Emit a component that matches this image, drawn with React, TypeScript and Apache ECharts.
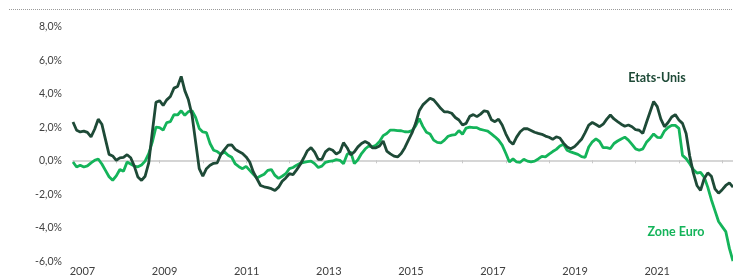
import React, { useEffect, useRef } from "react";
import * as echarts from "echarts";

// Monthly values (%), first point = January 2007
const usValues = [
  2.28, 1.79, 1.69, 1.74, 1.66, 1.4, 1.85, 2.45, 2.15, 1.25,
  0.35, 0.26, 0.0, 0.14, 0.17, 0.33, 0.15, -0.35, -1.0, -1.2,
  -0.95, -0.15, 1.7, 3.45, 3.55, 3.27, 3.6, 3.8, 4.3, 4.4,
  5.0, 4.15, 3.6, 2.7, 1.1, -0.5, -0.95, -0.5, -0.3, -0.18,
  -0.15, 0.35, 0.64, 0.9, 0.92, 0.65, 0.52, 0.41, 0.2, -0.1,
  -0.7, -1.1, -1.5, -1.58, -1.63, -1.69, -1.8, -1.6, -1.25, -1.05,
  -0.8, -0.85, -0.57, -0.25, 0.15, 0.57, 0.75, 0.48, 0.06, 0.05,
  0.5, 0.69, 0.6, 0.38, 0.5, 1.05, 0.75, 0.32, 0.5, 0.8,
  1.0, 1.12, 1.0, 0.74, 0.74, 0.85, 1.15, 0.55, 0.38, 0.25,
  0.2, 0.4, 0.75, 1.2, 1.63, 2.2, 2.95, 3.3, 3.5, 3.7,
  3.6, 3.35, 3.08, 2.88, 2.88, 2.8, 2.55, 2.4, 2.1, 2.2,
  2.62, 2.72, 2.6, 2.75, 2.95, 2.9, 2.42, 2.3, 2.45, 2.1,
  1.58, 1.15, 0.95, 1.38, 1.7, 1.88, 1.88, 1.78, 1.67, 1.6,
  1.55, 1.44, 1.37, 1.25, 1.4, 1.33, 1.02, 0.79, 0.69, 0.8,
  1.02, 1.25, 1.65, 2.1, 2.25, 2.13, 2.0, 2.15, 2.45, 2.7,
  2.46, 2.3, 2.15, 2.03, 2.1, 2.0, 1.82, 1.79, 1.6, 2.25,
  2.88, 3.5, 3.2, 2.45, 2.0, 2.25, 2.58, 2.72, 2.4, 2.2,
  1.6, 0.25, -0.75, -1.5, -1.79, -1.1, -0.75, -0.95, -1.7, -1.96,
  -1.75, -1.5, -1.35, -1.6,
];

const euroValues = [
  -0.1, -0.4, -0.3, -0.4, -0.33, -0.15, 0.0, 0.08, -0.22, -0.6,
  -0.98, -1.19, -0.93, -0.55, -0.65, -0.1, -0.22, -0.35, -0.39, -0.28,
  -0.05, 0.4, 1.1, 1.98, 1.95, 1.8, 2.25, 2.3, 2.72, 2.7,
  2.95, 2.68, 2.9, 2.95, 2.55, 1.9, 1.69, 1.65, 1.0, 0.6,
  0.52, 0.35, 0.5, 0.3, 0.18, -0.22, -0.38, -0.5, -0.36, -0.6,
  -0.83, -1.05, -0.94, -0.83, -0.6, -0.55, -0.9, -1.08, -0.95, -0.8,
  -0.5, -0.43, -0.29, -0.18, -0.12, -0.08, -0.05, -0.2, -0.43, -0.35,
  -0.12, -0.06, -0.04, 0.04, 0.0, -0.2, 0.35, 0.5, -0.2, 0.03,
  0.4, 0.67, 0.85, 0.81, 0.9, 1.12, 1.47, 1.6, 1.8, 1.8,
  1.77, 1.76, 1.7, 1.69, 1.77, 2.05, 2.48, 2.02, 1.67, 1.57,
  1.2, 1.07, 1.03, 1.2, 1.43, 1.5, 1.53, 1.77, 1.55, 1.92,
  1.98, 1.95, 1.94, 1.84, 1.79, 1.74, 1.57, 1.4, 1.2, 0.9,
  0.42, -0.1, 0.08, -0.1, -0.12, 0.06, -0.05, -0.1, -0.05, 0.08,
  0.23, 0.2, 0.37, 0.52, 0.65, 0.85, 0.95, 0.6, 0.5, 0.43,
  0.35, 0.22, 0.18, 0.79, 1.1, 1.27, 1.12, 0.75, 0.75, 0.7,
  1.0, 1.15, 1.27, 1.38, 1.2, 0.95, 0.68, 0.6, 0.68, 1.07,
  1.3, 1.57, 1.37, 1.35, 1.75, 1.95, 2.08, 2.08, 1.9, 0.29,
  0.1, -0.2, -0.55, -0.76, -0.72, -1.0, -1.6, -2.35, -3.0, -3.65,
  -3.95, -4.25, -5.25, -6.0,
];

const yearLabels = ["2007", "2009", "2011", "2013", "2015", "2017", "2019", "2021"];
const seriesNames = ["Etats-Unis", "Zone Euro"];

const US_COLOR = "#1E4A37";
const EURO_COLOR = "#14B45A";

export default function App() {
  const ref = useRef<HTMLDivElement>(null);

  useEffect(() => {
    if (!ref.current) return;
    const chart = echarts.init(ref.current, undefined, { renderer: "svg" });
    const lastIndex = usValues.length - 1;
    const usData = usValues.map((v, i) => [i, v]);
    const euroData = euroValues.map((v, i) => [i, v]);
    const labelStep = 82.1; // px between label positions
    const gridWidth = 660;

    chart.setOption({
      animation: false,
      textStyle: { fontFamily: "Lato, 'Open Sans', sans-serif" },
      grid: { left: 73, right: 0, top: 26, bottom: 16, containLabel: false },
      xAxis: [
        {
          type: "value",
          min: 0,
          max: lastIndex,
          interval: 12,
          axisLine: { show: true, onZero: true, lineStyle: { color: "#c8c8c8", width: 1.5 } },
          axisTick: { show: true, length: 3, inside: false, lineStyle: { color: "#c8c8c8" } },
          axisLabel: { show: false },
          splitLine: { show: false },
        },
        {
          type: "value",
          position: "bottom",
          min: 0,
          max: gridWidth / labelStep,
          interval: 1,
          axisLine: { show: false, onZero: false },
          axisTick: { show: false },
          splitLine: { show: false },
          axisLabel: {
            show: true,
            margin: 4,
            color: "#404040",
            fontSize: 11,
            padding: [0, 0, 0, 19],
            showMaxLabel: false,
            formatter: (v: number) => {
              const k = Math.round(v);
              return yearLabels[k] !== undefined ? yearLabels[k] : "";
            },
          },
        },
      ],
      yAxis: {
        type: "value",
        min: -6,
        max: 8,
        interval: 2,
        axisLine: { show: false },
        axisTick: { show: false },
        splitLine: { show: false },
        axisLabel: {
          margin: 11,
          color: "#404040",
          fontSize: 10.5,
          formatter: (v: number) => v.toFixed(1).replace(".", ",") + "%",
        },
      },
      graphic: [
        {
          type: "line",
          shape: { x1: 9, y1: 9.5, x2: 733, y2: 9.5 },
          style: { stroke: "#9a9a9a", lineWidth: 1, lineDash: [1, 1] },
          silent: true,
        },
        {
          type: "text",
          x: 657,
          y: 77.5,
          style: {
            text: seriesNames[0],
            fill: US_COLOR,
            font: "bold 12.5px Lato, sans-serif",
            align: "center",
            verticalAlign: "middle",
          },
        },
        {
          type: "text",
          x: 676,
          y: 231,
          style: {
            text: seriesNames[1],
            fill: EURO_COLOR,
            font: "bold 12.5px Lato, sans-serif",
            align: "center",
            verticalAlign: "middle",
          },
        },
      ],
      series: [
        {
          name: seriesNames[1],
          type: "line",
          xAxisIndex: 0,
          data: euroData,
          showSymbol: false,
          symbol: "none",
          lineStyle: { color: EURO_COLOR, width: 2.8 },
          z: 2,
        },
        {
          name: seriesNames[0],
          type: "line",
          xAxisIndex: 0,
          data: usData,
          showSymbol: false,
          symbol: "none",
          lineStyle: { color: US_COLOR, width: 2.8 },
          z: 3,
        },
      ],
    });

    return () => chart.dispose();
  }, []);

  return (
    <div
      ref={ref}
      style={{ position: "fixed", left: 0, top: 0, width: 733, height: 277 }}
    />
  );
}
